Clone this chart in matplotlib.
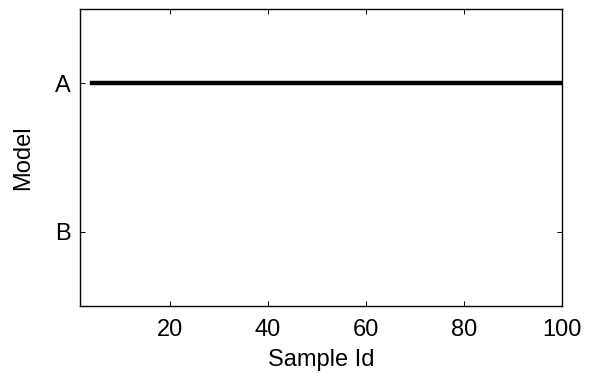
import numpy as np
import matplotlib.pyplot as plt

plt.rcParams['font.family'] = ['Liberation Sans', 'DejaVu Sans']

# data
models = ["B", "A"]
sample_ids = np.arange(4, 101)
chosen = ["A"] * len(sample_ids)
xticks = [20, 40, 60, 80, 100]

ypos = {m: i + 1 for i, m in enumerate(models)}

fig = plt.figure(figsize=(5.91, 3.79), dpi=100)
ax = fig.add_axes([0.1354, 0.1926, 0.8155, 0.7836])

ax.plot(sample_ids, [ypos[m] for m in chosen], '-', color='black', linewidth=3.2,
        solid_capstyle='projecting')

ax.set_xlim(1.6, 100)
ax.set_ylim(0.5, 2.5)
ax.set_xticks(xticks)
ax.set_yticks([ypos[m] for m in models])
ax.set_yticklabels(models)
ax.tick_params(direction='in', length=3.5, width=0.7, top=True, right=True,
               labelsize=17)
ax.tick_params(axis='x', pad=9)
ax.tick_params(axis='y', pad=7)
for s in ax.spines.values():
    s.set_linewidth(1.0)

ax.set_xlabel("Sample Id", fontsize=17, labelpad=6)
ax.set_ylabel("Model", fontsize=17, labelpad=15)

fig.savefig("out.png", dpi=100)
